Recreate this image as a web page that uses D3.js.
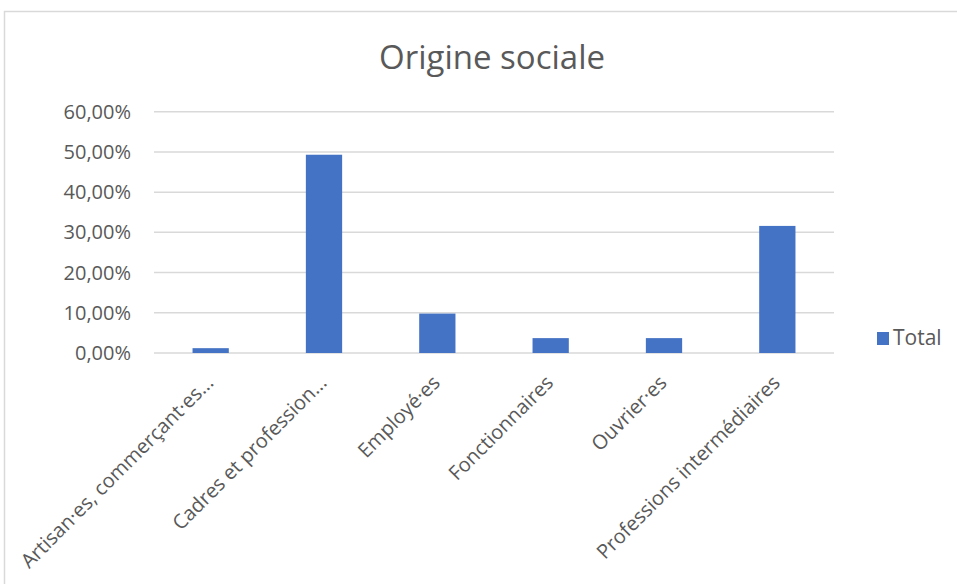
<!DOCTYPE html>
<html><head><meta charset="utf-8">
<script src="https://cdn.jsdelivr.net/npm/d3@7"></script>
<style>body{margin:0;background:#fff}svg{display:block}</style>
</head><body>
<script>
const categories = ["Artisan·es, commerçant·es...", "Cadres et profession...", "Employé·es", "Fonctionnaires", "Ouvrier·es", "Professions intermédiaires"];
const totals = [0.012, 0.493, 0.098, 0.037, 0.037, 0.316];
const yTicks = [0, 0.1, 0.2, 0.3, 0.4, 0.5, 0.6];
const seriesName = "Total";
const title = "Origine sociale";

const W = 957, H = 584;
const font = "'Open Sans', Calibri, sans-serif";
const svg = d3.select("body").append("svg").attr("width", W).attr("height", H);
svg.append("rect").attr("x", 4.5).attr("y", 11.5).attr("width", W).attr("height", H)
  .attr("fill", "#fff").attr("stroke", "#d9d9d9").attr("stroke-width", 1.5);

const x = d3.scaleBand().domain(categories).range([154, 834]).paddingInner(0.68).paddingOuter(0.34);
const y = d3.scaleLinear().domain([0, 0.6]).range([353, 111.7]);

const fmt = v => d3.format(".2f")(v * 100).replace(".", ",") + "%";

const gy = svg.append("g");
gy.selectAll("line").data(yTicks).join("line")
  .attr("x1", 154).attr("x2", 834).attr("y1", d => y(d)).attr("y2", d => y(d))
  .attr("stroke", "#d9d9d9").attr("stroke-width", 1.5);
gy.selectAll("text").data(yTicks).join("text")
  .attr("x", 131).attr("y", d => y(d)).attr("dy", "0.35em").attr("text-anchor", "end")
  .attr("font-family", font).attr("font-size", 20).attr("fill", "#595959").text(fmt);

svg.append("g").selectAll("rect").data(categories).join("rect")
  .attr("x", d => x(d)).attr("width", x.bandwidth())
  .attr("y", (d, i) => y(totals[i])).attr("height", (d, i) => y(0) - y(totals[i]))
  .attr("fill", "#4472c4");

svg.append("g").selectAll("text").data(categories).join("text")
  .attr("transform", d => `translate(${x(d) + x.bandwidth() / 2 - 1},${379}) rotate(-45)`)
  .attr("text-anchor", "end").attr("dy", "0.35em")
  .attr("font-family", font).attr("font-size", 20).attr("fill", "#595959").text(d => d);

svg.append("text").attr("x", 492).attr("y", 57).attr("dy", "0.35em").attr("text-anchor", "middle")
  .attr("font-family", font).attr("font-size", 33).attr("fill", "#595959").text(title);

svg.append("rect").attr("x", 877).attr("y", 332).attr("width", 12).attr("height", 13).attr("fill", "#4472c4");
svg.append("text").attr("x", 893).attr("y", 338).attr("dy", "0.35em")
  .attr("font-family", font).attr("font-size", 21).attr("fill", "#595959").text(seriesName);
</script>
</body></html>
